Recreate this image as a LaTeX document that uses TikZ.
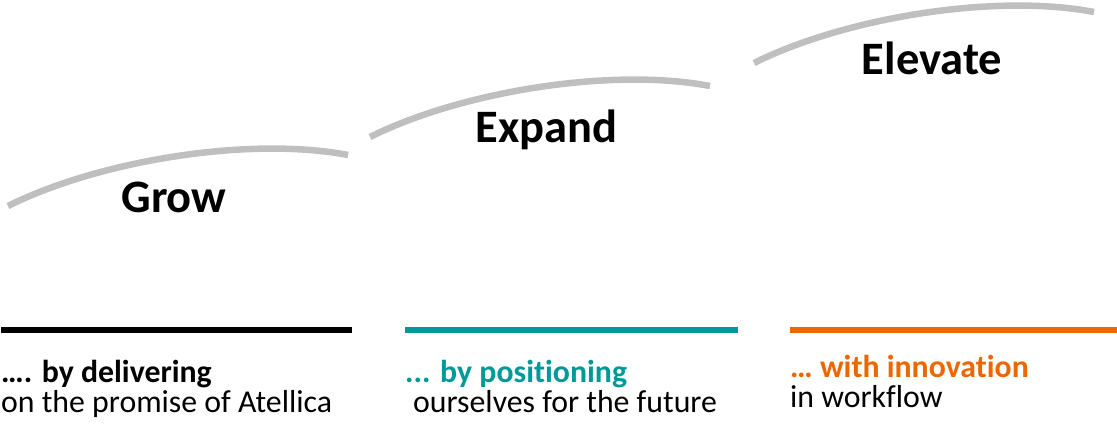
\documentclass[tikz,border=0pt]{standalone}
\usepackage{fontspec}
\setmainfont{Carlito}[RawFeature={-liga;-dlig;-clig;-calt}]
\definecolor{arcgray}{HTML}{BFBFBF}
\definecolor{petrol}{HTML}{009999}
\definecolor{orng}{HTML}{EC6602}
\begin{document}
\begin{tikzpicture}[x=1pt,y=-1pt,
  arcline/.style={draw=arcgray,line width=6.5pt},
  barline/.style={line width=6.5pt},
  title/.style={font=\fontsize{46.5}{50}\selectfont\bfseries,inner sep=0pt,anchor=base},
  lead/.style={font=\fontsize{31.8}{30}\selectfont\bfseries,inner sep=0pt,anchor=base west},
  body/.style={font=\fontsize{31.8}{30}\selectfont,inner sep=0pt,anchor=base west}]
\useasboundingbox (0,0) rectangle (1117,425);
% arcs
\draw[arcline] (8,206) .. controls (98,161) and (248,136) .. (348,155);
\draw[arcline] (370,137) .. controls (460,92) and (610,67) .. (710,86);
\draw[arcline] (754,63) .. controls (844,18) and (994,-7) .. (1094,12);
% titles
\node[title] (grow) at (174,212) {Grow};
\node[title] (expand) at (546.5,143) {Expand};
\node[title] (elevate) at (932,75) {Elevate};
% bars
\draw[barline,draw=black] (1,330) -- (352,330);
\draw[barline,draw=petrol] (405,330) -- (738,330);
\draw[barline,draw=orng] (790,330) -- (1117,330);
% texts
\node[lead] (l1) at (1,382) {…. by delivering};
\node[body] (d1) at (1,412) {on the promise of Atellica};
\node[lead,text=petrol] (l2) at (405,382) {... by positioning};
\node[body] (d2) at (413,412) {ourselves for the future};
\node[lead,text=orng] (l3) at (790,377) {… with innovation};
\node[body] (d3) at (790,407) {in workflow};
\end{tikzpicture}
\end{document}
